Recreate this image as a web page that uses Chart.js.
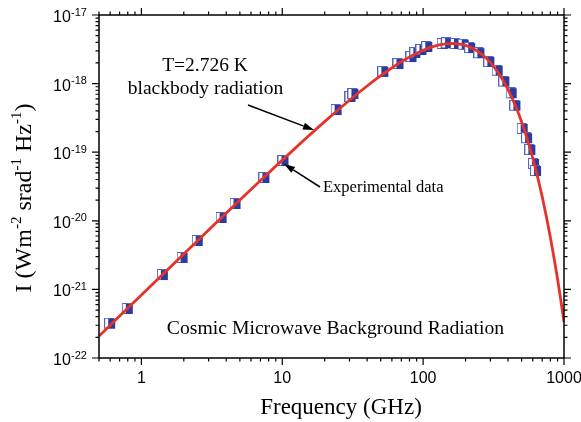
<!DOCTYPE html>
<html>
<head>
<meta charset="utf-8">
<script src="https://cdn.jsdelivr.net/npm/chart.js@4.4.0/dist/chart.umd.min.js"></script>
<style>
html, body { margin: 0; padding: 0; background: #fff; }
</style>
</head>
<body>
<canvas id="cmb" width="581" height="422"></canvas>
<script>
'use strict'

// measured points: frequency (GHz) and intensity (W m^-2 sr^-1 Hz^-1)
let freqData = [0.6, 0.8, 1.42, 1.96, 2.51, 3.71, 4.66, 7.47, 10.2, 24.3, 30.5, 32, 52.2, 66.8, 82.6, 88, 97.3, 107,
  137.7, 148, 171, 194, 216, 251, 295, 338, 377, 425, 452, 509, 547, 577, 613, 633];
let intensityData = [3.16e-22, 5.18e-22, 1.62e-21, 2.87e-21, 5.08e-21, 1.10e-20, 1.76e-20, 4.21e-20, 7.44e-20,
  4.12e-19, 6.38e-19, 7.05e-19, 1.48e-18, 1.93e-18, 2.44e-18, 2.79e-18, 3.09e-18, 3.42e-18,
  3.78e-18, 3.87e-18, 3.78e-18, 3.69e-18, 3.30e-18, 2.77e-18, 2.07e-18, 1.54e-18, 1.07e-18, 7.22e-19,
  4.76e-19, 2.18e-19, 1.60e-19, 1.08e-19, 6.73e-20, 5.32e-20];

// blackbody curve, T = 2.726 K, read at these frequencies
let curveFreq = [0.5, 0.7, 1, 2, 3, 5, 7, 10, 15, 20, 30, 40, 50, 70, 100, 130, 160, 190, 220, 260, 300, 350,
  400, 450, 500, 550, 600, 650, 700, 750, 800, 850, 900, 950, 1000];
let curveIntensity = [2.085e-22, 4.079e-22, 8.302e-22, 3.292e-21, 7.340e-21, 2.003e-20, 3.856e-20, 7.660e-20,
  1.647e-19, 2.795e-19, 5.721e-19, 9.231e-19, 1.306e-18, 2.082e-18, 3.062e-18, 3.655e-18, 3.841e-18, 3.696e-18,
  3.334e-18, 2.692e-18, 2.034e-18, 1.336e-18, 8.257e-19, 4.872e-19, 2.771e-19, 1.529e-19, 8.233e-20, 4.341e-20,
  2.248e-20, 1.147e-20, 5.770e-21, 2.870e-21, 1.413e-21, 6.896e-22, 3.332e-22];

// tick labels
let xTickLabels = [1, 10, 100, 1000];
let yTickExponents = [-17, -18, -19, -20, -21, -22];

let serif = '"Liberation Serif", "Times New Roman", serif';
let sans = '"Liberation Sans", Arial, sans-serif';

// half filled square marker
let marker = document.createElement('canvas');
marker.width = 12;
marker.height = 12;
let mc = marker.getContext('2d');
mc.fillStyle = '#ffffff';
mc.fillRect(0, 0, 10, 10);
mc.strokeStyle = '#5565c4';
mc.lineWidth = 1;
mc.strokeRect(0.5, 0.5, 9, 10);
mc.fillStyle = '#2b3c9e';
mc.fillRect(4, 1, 7, 10);

let points = freqData.map((f, i) => ({ x: f, y: intensityData[i] }));
let curve = curveFreq.map((f, i) => ({ x: f, y: curveIntensity[i] }));

function arrow(ctx, x1, y1, x2, y2) {
  let a = Math.atan2(y2 - y1, x2 - x1);
  let len = 11, hw = 3.5;
  let bx = x2 - len * Math.cos(a), by = y2 - len * Math.sin(a);
  ctx.beginPath();
  ctx.moveTo(x1, y1);
  ctx.lineTo(bx, by);
  ctx.stroke();
  ctx.beginPath();
  ctx.moveTo(x2, y2);
  ctx.lineTo(bx + hw * Math.sin(a), by - hw * Math.cos(a));
  ctx.lineTo(bx - hw * Math.sin(a), by + hw * Math.cos(a));
  ctx.closePath();
  ctx.fill();
}

// draws text pieces with superscripts, starting at x along baseline 0
function superText(ctx, parts, size, supSize, rise, x) {
  for (let p of parts) {
    if (p.sup) {
      ctx.font = supSize + 'px ' + serif;
      ctx.fillText(p.t, x, -rise);
    } else {
      ctx.font = size + 'px ' + serif;
      ctx.fillText(p.t, x, 0);
    }
    x += ctx.measureText(p.t).width;
  }
  return x;
}

function partsWidth(ctx, parts, size, supSize) {
  let w = 0;
  for (let p of parts) {
    ctx.font = (p.sup ? supSize : size) + 'px ' + serif;
    w += ctx.measureText(p.t).width;
  }
  return w;
}

let framePlugin = {
  id: 'frame',
  afterDraw(chart) {
    let ctx = chart.ctx;
    let a = chart.chartArea;
    let xs = chart.scales.x, ys = chart.scales.y;
    ctx.save();
    ctx.strokeStyle = '#000';
    ctx.fillStyle = '#000';
    ctx.lineWidth = 1.5;
    ctx.strokeRect(a.left, a.top, a.right - a.left, a.bottom - a.top);

    // x ticks, outward top and bottom
    ctx.lineWidth = 1.2;
    for (let n = -1; n <= 3; n++) {
      for (let k = 1; k <= 9; k++) {
        let v = k * Math.pow(10, n);
        if (v < 0.5 - 1e-9 || v > 1000 + 1e-9) continue;
        let px = xs.getPixelForValue(v);
        let l = k === 1 ? 7 : 3.5;
        ctx.beginPath();
        ctx.moveTo(px, a.bottom); ctx.lineTo(px, a.bottom + l);
        ctx.moveTo(px, a.top); ctx.lineTo(px, a.top - l);
        ctx.stroke();
      }
    }
    // y ticks, outward left and right
    for (let n = -22; n <= -17; n++) {
      for (let k = 1; k <= 9; k++) {
        let v = k * Math.pow(10, n);
        if (v > 1.0000001e-17) continue;
        let py = ys.getPixelForValue(v);
        let l = k === 1 ? 7 : 3.5;
        ctx.beginPath();
        ctx.moveTo(a.left, py); ctx.lineTo(a.left - l, py);
        ctx.moveTo(a.right, py); ctx.lineTo(a.right + l, py);
        ctx.stroke();
      }
    }

    // x tick labels
    ctx.font = '16px ' + sans;
    ctx.textAlign = 'center';
    ctx.textBaseline = 'alphabetic';
    for (let v of xTickLabels) {
      ctx.fillText(String(v), xs.getPixelForValue(v), a.bottom + 25);
    }
    // y tick labels 10^n
    ctx.textAlign = 'left';
    for (let e of yTickExponents) {
      let py = ys.getPixelForValue(Math.pow(10, e));
      ctx.font = '16px ' + sans;
      ctx.fillText('10', 53, py + 7);
      ctx.font = '11px ' + sans;
      ctx.fillText(String(e), 71, py + 0.5);
    }

    // axis titles
    ctx.font = '23px ' + serif;
    ctx.textAlign = 'center';
    ctx.fillText('Frequency (GHz)', 341, 414);

    let yParts = [
      { t: 'I (Wm' }, { t: '-2', sup: true }, { t: ' srad' }, { t: '-1', sup: true },
      { t: ' Hz' }, { t: '-1', sup: true }, { t: ')' }
    ];
    ctx.textAlign = 'left';
    let w = partsWidth(ctx, yParts, 24, 15);
    ctx.save();
    ctx.translate(31, 198);
    ctx.rotate(-Math.PI / 2);
    superText(ctx, yParts, 24, 15, 10, -w / 2);
    ctx.restore();

    // annotations
    ctx.font = '19.5px ' + serif;
    ctx.textAlign = 'center';
    ctx.fillText('T=2.726 K', 205, 71);
    ctx.fillText('blackbody radiation', 205.5, 94);
    ctx.font = '19.7px ' + serif;
    ctx.fillText('Cosmic Microwave Background Radiation', 335.5, 334);
    ctx.textAlign = 'left';
    ctx.font = '16.5px ' + serif;
    ctx.fillText('Experimental data', 323, 192);

    ctx.lineWidth = 1.5;
    arrow(ctx, 248, 105, 314, 130);
    arrow(ctx, 320, 187, 284, 164);
    ctx.restore();
  }
};

let chart = new Chart(document.getElementById('cmb').getContext('2d'), {
  type: 'scatter',
  data: {
    datasets: [
      {
        label: 'T=2.726 K blackbody',
        data: curve,
        showLine: true,
        borderColor: '#e5332a',
        borderWidth: 2.8,
        pointRadius: 0,
        cubicInterpolationMode: 'monotone',
        order: 1
      },
      {
        label: 'Experimental data',
        data: points,
        pointStyle: marker,
        pointRadius: 5,
        order: 2
      }
    ]
  },
  options: {
    responsive: false,
    devicePixelRatio: 1,
    animation: false,
    layout: { padding: { left: 99, top: 15, right: 17, bottom: 64 } },
    scales: {
      x: { type: 'logarithmic', min: 0.5, max: 1000, display: false },
      y: { type: 'logarithmic', min: 1e-22, max: 1e-17, display: false }
    },
    plugins: { legend: { display: false }, tooltip: { enabled: false } }
  },
  plugins: [framePlugin]
});
</script>
</body>
</html>
